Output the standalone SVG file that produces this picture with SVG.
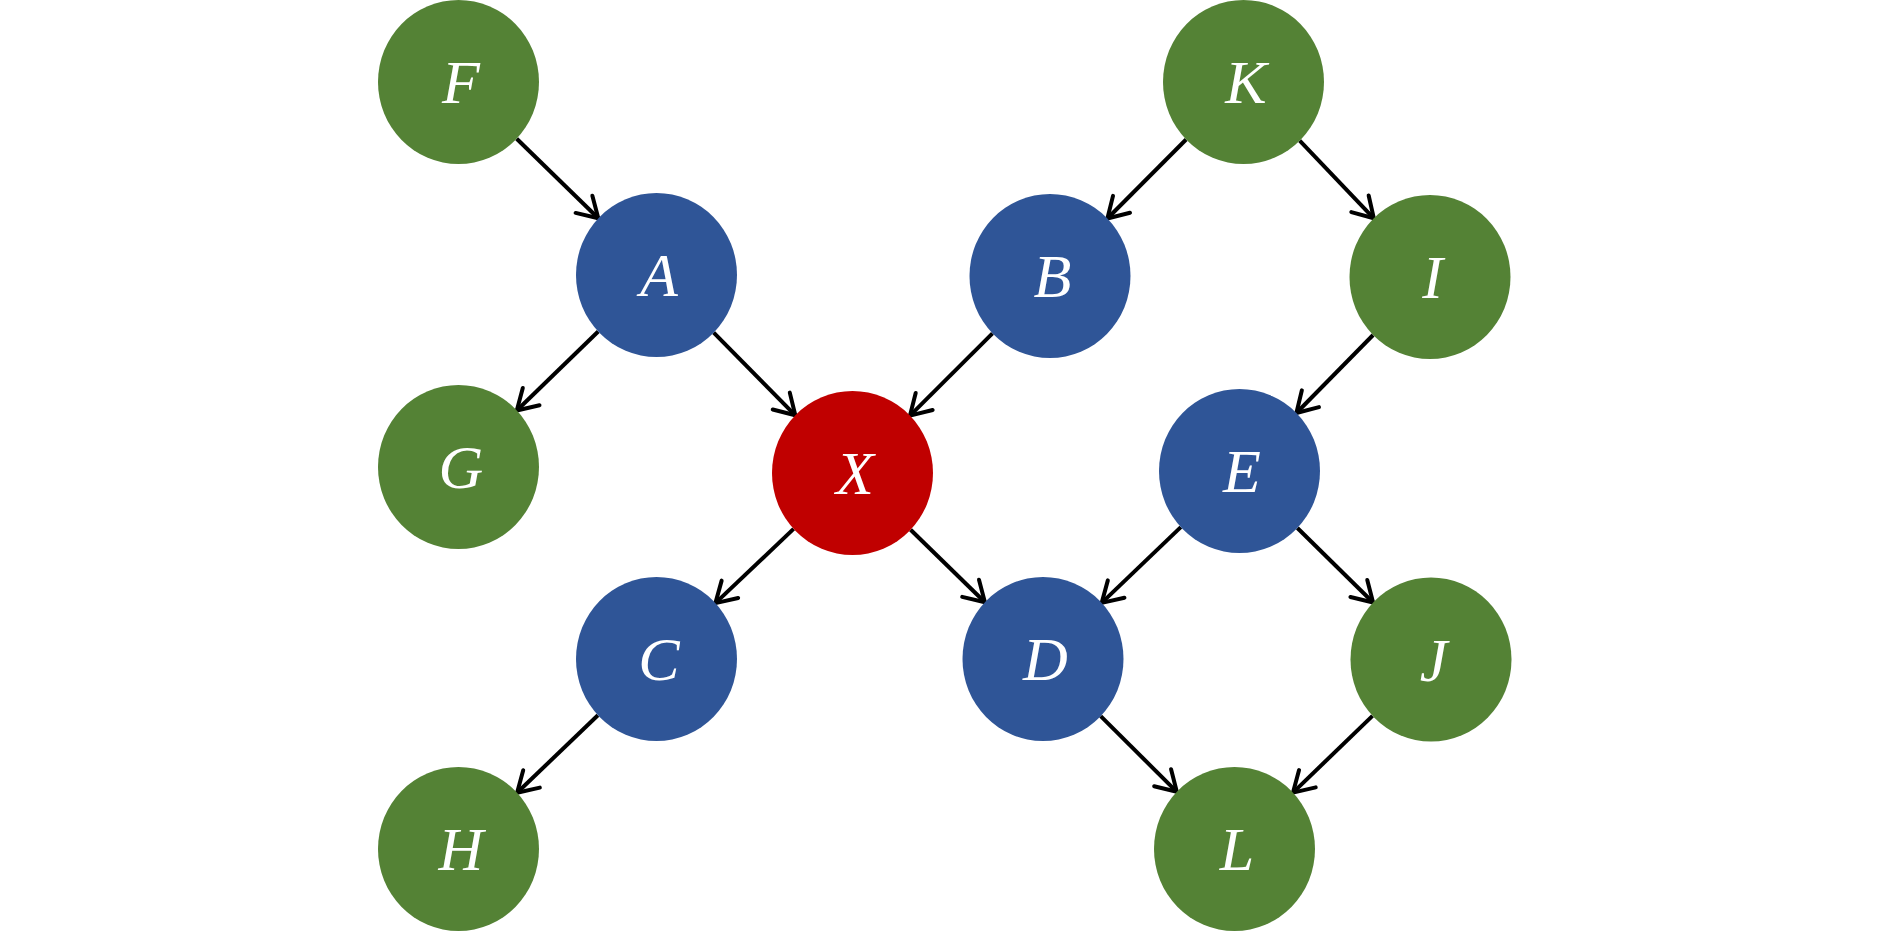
<svg xmlns="http://www.w3.org/2000/svg" width="1890" height="931" viewBox="0 0 1890 931">
<style>
.green{fill:#548235}
.blue{fill:#2F5597}
.red{fill:#C00000}
.lbl{font-family:"Liberation Serif","Times New Roman",serif;font-style:italic;font-size:62px;fill:#ffffff;text-anchor:middle}
.edge{stroke:#000;stroke-width:4;fill:none;marker-end:url(#arr)}
</style>
<defs>
<marker id="arr" markerUnits="userSpaceOnUse" markerWidth="40" markerHeight="40" refX="0" refY="0" orient="auto" overflow="visible">
<path d="M-20,-12 L0,0 L-20,12" fill="none" stroke="#000" stroke-width="4" stroke-linecap="round" stroke-linejoin="round"/>
</marker>
</defs>
<rect width="1890" height="931" fill="#ffffff"/>
<g id="connectors">
<line class="edge" x1="516.7" y1="138.7" x2="598.3" y2="218.3"/>
<line class="edge" x1="598.2" y1="331.5" x2="516.8" y2="410.5"/>
<line class="edge" x1="713.7" y1="332.7" x2="795.3" y2="415.3"/>
<line class="edge" x1="992.5" y1="333.4" x2="910" y2="415.6"/>
<line class="edge" x1="1186.1" y1="139.5" x2="1107.4" y2="218.5"/>
<line class="edge" x1="1299.7" y1="140.7" x2="1373.8" y2="218.3"/>
<line class="edge" x1="1373.1" y1="335" x2="1296.4" y2="413"/>
<line class="edge" x1="793.6" y1="528.9" x2="715.4" y2="603.1"/>
<line class="edge" x1="910.6" y1="529.7" x2="984.9" y2="602.3"/>
<line class="edge" x1="1180.8" y1="527.1" x2="1101.7" y2="602.9"/>
<line class="edge" x1="1297.4" y1="528" x2="1373.1" y2="602.5"/>
<line class="edge" x1="597.9" y1="715.2" x2="517.1" y2="792.8"/>
<line class="edge" x1="1100.7" y1="716.2" x2="1176.8" y2="791.8"/>
<line class="edge" x1="1372.5" y1="715.9" x2="1293" y2="792.6"/>
</g>
<g id="node-F"><ellipse class="green" cx="458.5" cy="82" rx="80.5" ry="82"/><text class="lbl" x="461" y="103">F</text></g>
<g id="node-A"><ellipse class="blue" cx="656.5" cy="275" rx="80.5" ry="82"/><text class="lbl" x="659" y="296">A</text></g>
<g id="node-G"><ellipse class="green" cx="458.5" cy="467" rx="80.5" ry="82"/><text class="lbl" x="461" y="488">G</text></g>
<g id="node-X"><ellipse class="red" cx="852.5" cy="473" rx="80.5" ry="82"/><text class="lbl" x="855" y="494">X</text></g>
<g id="node-B"><ellipse class="blue" cx="1050" cy="276" rx="80.5" ry="82"/><text class="lbl" x="1052.5" y="297">B</text></g>
<g id="node-K"><ellipse class="green" cx="1243.5" cy="82" rx="80.5" ry="82"/><text class="lbl" x="1246" y="103">K</text></g>
<g id="node-I"><ellipse class="green" cx="1430" cy="277" rx="80.5" ry="82"/><text class="lbl" x="1432.5" y="298">I</text></g>
<g id="node-E"><ellipse class="blue" cx="1239.5" cy="471" rx="80.5" ry="82"/><text class="lbl" x="1242" y="492">E</text></g>
<g id="node-C"><ellipse class="blue" cx="656.5" cy="659" rx="80.5" ry="82"/><text class="lbl" x="659" y="680">C</text></g>
<g id="node-D"><ellipse class="blue" cx="1043" cy="659" rx="80.5" ry="82"/><text class="lbl" x="1045.5" y="680">D</text></g>
<g id="node-J"><ellipse class="green" cx="1431" cy="659.5" rx="80.5" ry="82"/><text class="lbl" x="1433.5" y="680.5">J</text></g>
<g id="node-H"><ellipse class="green" cx="458.5" cy="849" rx="80.5" ry="82"/><text class="lbl" x="461" y="870">H</text></g>
<g id="node-L"><ellipse class="green" cx="1234.5" cy="849" rx="80.5" ry="82"/><text class="lbl" x="1237" y="870">L</text></g>
</svg>
